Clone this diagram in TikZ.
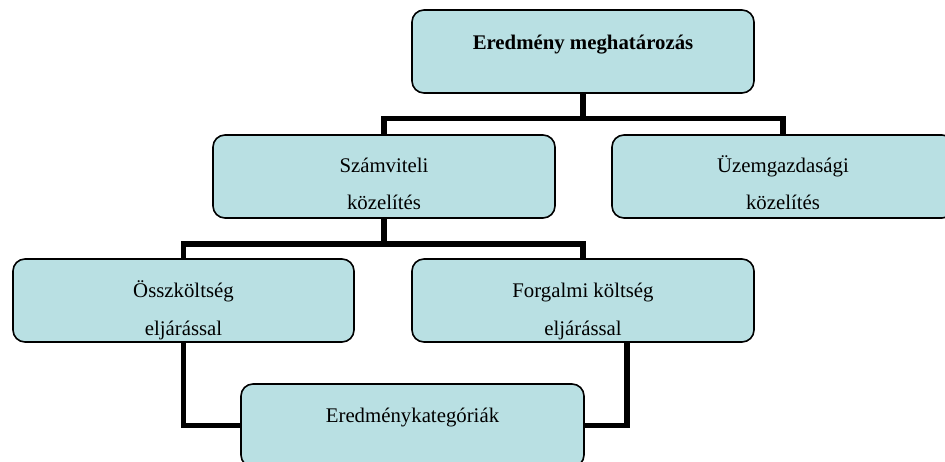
\documentclass[tikz,border=0pt]{standalone}
\usepackage{fontspec}
\setmainfont{Liberation Serif}
\usetikzlibrary{calc}
\definecolor{boxfill}{RGB}{185,224,227}
\tikzset{
  box/.style={draw=black, fill=boxfill, line width=1.6pt, rounded corners=12pt,
    minimum width=342pt, minimum height=83pt, inner sep=0pt, outer sep=0pt},
  txt/.style={anchor=base, inner sep=0pt, font=\fontsize{20.8}{25}\selectfont},
  conn/.style={draw=black, line width=5.5pt, line join=miter, line cap=butt},
}
\begin{document}
\begin{tikzpicture}[x=1pt,y=-1pt]
\useasboundingbox (0,0) rectangle (945,462);
\clip (0,0) rectangle (945,462);
% boxes
\node[box] (top)  at (583,51.5)  {};
\node[box] (szam) at (384,176.5) {};
\node[box] (uzem) at (783,176.5) {};
\node[box, minimum width=341pt] (ossz) at (183.5,300.5) {};
\node[box] (forg) at (583,300.5) {};
\node[box, minimum width=343pt] (ered) at (412.5,425.5) {};
% texts
\node[txt, font=\fontsize{20.8}{25}\selectfont\bfseries] (t1) at (583,50) {Eredmény meghatározás};
\node[txt] (t2a) at (384,173) {Számviteli};
\node[txt] (t2b) at (384,210) {közelítés};
\node[txt] (t3a) at (783,173) {Üzemgazdasági};
\node[txt] (t3b) at (783,210) {közelítés};
\node[txt] (t4a) at (183.5,298) {Összköltség};
\node[txt] (t4b) at (183.5,335) {eljárással};
\node[txt] (t5a) at (583,298) {Forgalmi költség};
\node[txt] (t5b) at (583,335) {eljárással};
\node[txt] (t6) at (412.5,422) {Eredménykategóriák};
% connectors
\coordinate (j1) at (583,118.5);
\coordinate (j2) at (384,244);
\coordinate (f1) at ([xshift=44pt]forg.south);
\draw[conn] (top.south) -- (j1);
\draw[conn] (szam.north) |- (j1) -| (uzem.north);
\draw[conn] (szam.south) -- (j2);
\draw[conn] (ossz.north) |- (j2) -| (forg.north);
\draw[conn] (ossz.south) |- (ered.west);
\draw[conn] (f1) |- (ered.east);
\end{tikzpicture}
\end{document}
